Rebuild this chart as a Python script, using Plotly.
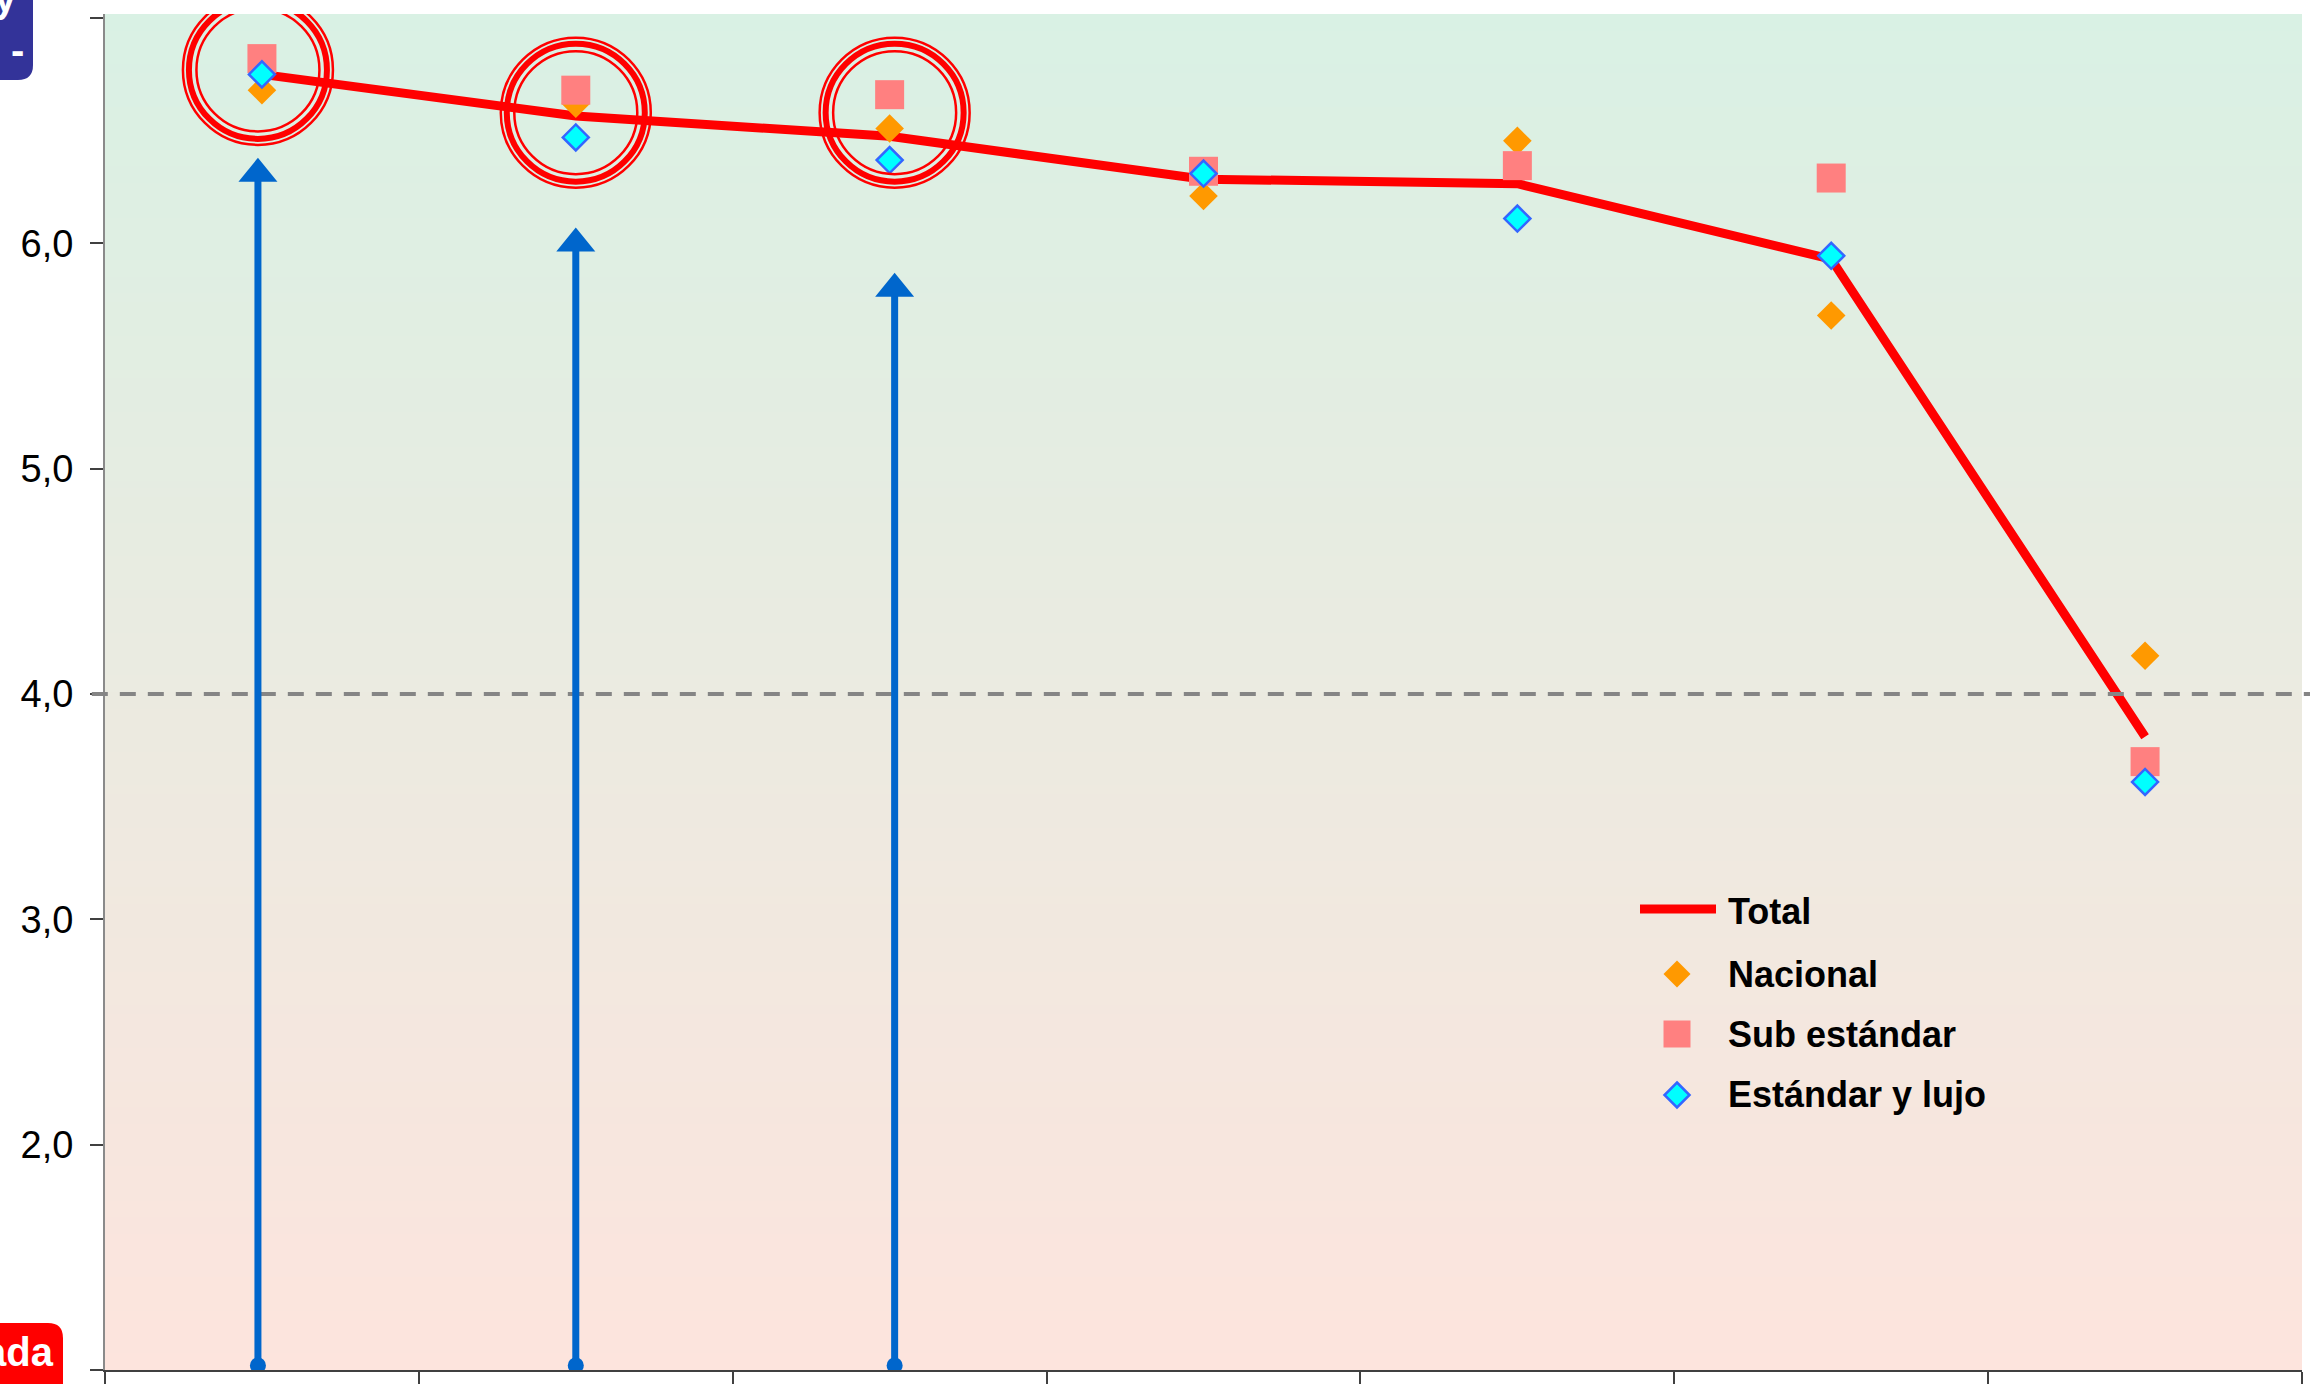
import plotly.graph_objects as go

# ---------------- data ----------------
categories = ["Grupo 1", "Grupo 2", "Grupo 3", "Grupo 4", "Grupo 5", "Grupo 6", "Grupo 7"]
total = [6.75, 6.565, 6.475, 6.285, 6.265, 5.93, 3.81]
nacional = [6.68, 6.62, 6.51, 6.21, 6.455, 5.68, 4.17]
sub_estandar = [6.82, 6.68, 6.66, 6.32, 6.345, 6.29, 3.70]
estandar_lujo = [6.75, 6.47, 6.37, 6.31, 6.11, 5.945, 3.61]

y_tick_vals = [1, 2, 3, 4, 5, 6, 7]
y_tick_text = ["", "2,0", "3,0", "4,0", "5,0", "6,0", ""]
threshold = 4.0

highlight_cats = ["Grupo 1", "Grupo 2", "Grupo 3"]
highlight_centers = [6.77, 6.58, 6.58]
highlight_offsets_px = [-4, 0, 5]
arrow_tips = [6.38, 6.07, 5.87]
arrow_base = 1.02

legend_labels = ["Total", "Nacional", "Sub estándar", "Estándar y lujo"]
box_top_lines = ["y", "-"]
box_bottom_text = "ada"

# ---------------- style ----------------
W, H = 2310, 1384
ML, MR, MT, MB = 105, 8, 14, 14
PW, PH = W - ML - MR, H - MT - MB
Y_RANGE = [1.0, 7.018]
YSCALE = PH / (Y_RANGE[1] - Y_RANGE[0])

RED = "#FF0000"
ORANGE = "#FF9900"
PINK = "#FF8080"
CYAN = "#00FFFF"
CYAN_EDGE = "#3366FF"
ARROW = "#0066CC"
FONT = "Liberation Sans"

def px_x(px):
    return (px - ML) / PW

def px_y(py):
    return (H - MB - py) / PH

fig = go.Figure()

fig.add_trace(go.Scatter(x=categories, y=total, mode="lines", name=legend_labels[0],
                         line=dict(color=RED, width=9), showlegend=False))
fig.add_trace(go.Scatter(x=categories, y=nacional, mode="markers", name=legend_labels[1],
                         marker=dict(symbol="diamond", size=22, color=ORANGE, line=dict(width=0)),
                         showlegend=False))
fig.add_trace(go.Scatter(x=categories, y=sub_estandar, mode="markers", name=legend_labels[2],
                         marker=dict(symbol="square", size=29, color=PINK, line=dict(width=0)),
                         showlegend=False))
fig.add_trace(go.Scatter(x=categories, y=estandar_lujo, mode="markers", name=legend_labels[3],
                         marker=dict(symbol="diamond", size=20, color=CYAN,
                                     line=dict(width=2.5, color=CYAN_EDGE)),
                         showlegend=False))

shapes = []

# gradient background of the plot area
top_c = (217, 241, 228)
bot_c = (253, 228, 221)
N = 160
for i in range(N):
    t = (i + 0.5) / N
    c = tuple(round(bot_c[k] + (top_c[k] - bot_c[k]) * t) for k in range(3))
    shapes.append(dict(type="rect", xref="paper", yref="paper", x0=0, x1=1,
                       y0=i / N, y1=min(1.0, (i + 1.3) / N), layer="below",
                       line=dict(width=0), fillcolor="rgb(%d,%d,%d)" % c))

# threshold dashed line
shapes.append(dict(type="line", xref="paper", yref="y", x0=-0.006, x1=1.01,
                   y0=threshold, y1=threshold, layer="above",
                   line=dict(color="#858585", width=4, dash="16px,12px")))

# highlight circles (triple rings)
for cat, cy, dx in zip(highlight_cats, highlight_centers, highlight_offsets_px):
    for r, w in [(75, 2.5), (69, 6), (61.5, 2.5)]:
        shapes.append(dict(type="circle", xref="x", yref="y", xsizemode="pixel", ysizemode="pixel",
                           xanchor=cat, yanchor=cy, x0=dx - r, x1=dx + r, y0=-r, y1=r,
                           layer="above", line=dict(color=RED, width=w)))

# arrows
head_w, head_h = 39, 24
for cat, tip, dx in zip(highlight_cats, arrow_tips, highlight_offsets_px):
    shapes.append(dict(type="line", xref="x", yref="y", xsizemode="pixel", xanchor=cat,
                       x0=dx, x1=dx, y0=arrow_base, y1=tip - (head_h * 0.7) / YSCALE,
                       layer="above", line=dict(color=ARROW, width=7)))
    shapes.append(dict(type="path", xref="x", yref="y", xsizemode="pixel", ysizemode="pixel",
                       xanchor=cat, yanchor=tip,
                       path="M%.1f,%.1f L%.1f,%.1f L%.1f,0 Z" % (dx - head_w / 2, -head_h,
                                                                  dx + head_w / 2, -head_h, dx),
                       layer="above", fillcolor=ARROW, line=dict(width=0)))
    shapes.append(dict(type="circle", xref="x", yref="y", xsizemode="pixel", ysizemode="pixel",
                       xanchor=cat, yanchor=arrow_base, x0=dx - 8, x1=dx + 8, y0=-8, y1=8,
                       layer="above", fillcolor=ARROW, line=dict(width=0)))

# manual legend
leg_marker_x = px_x(1677)
leg_rows = [909, 974, 1034, 1095]
shapes.append(dict(type="line", xref="paper", yref="paper", x0=px_x(1640), x1=px_x(1716),
                   y0=px_y(leg_rows[0]), y1=px_y(leg_rows[0]), line=dict(color=RED, width=9)))
shapes.append(dict(type="path", xref="paper", yref="paper", xsizemode="pixel", ysizemode="pixel",
                   xanchor=leg_marker_x, yanchor=px_y(leg_rows[1]),
                   path="M0,13.5 L13.5,0 L0,-13.5 L-13.5,0 Z", fillcolor=ORANGE, line=dict(width=0)))
shapes.append(dict(type="path", xref="paper", yref="paper", xsizemode="pixel", ysizemode="pixel",
                   xanchor=leg_marker_x, yanchor=px_y(leg_rows[2]),
                   path="M-13.5,-13.5 L13.5,-13.5 L13.5,13.5 L-13.5,13.5 Z", fillcolor=PINK,
                   line=dict(width=0)))
shapes.append(dict(type="path", xref="paper", yref="paper", xsizemode="pixel", ysizemode="pixel",
                   xanchor=leg_marker_x, yanchor=px_y(leg_rows[3]),
                   path="M0,12.5 L12.5,0 L0,-12.5 L-12.5,0 Z", fillcolor=CYAN,
                   line=dict(width=2.5, color=CYAN_EDGE)))

# cut-off label boxes on the left edge
shapes.append(dict(type="path", xref="paper", yref="paper", xsizemode="pixel", ysizemode="pixel",
                   xanchor=0, yanchor=1,
                   path="M-112,20 L-72,20 L-72,-51 Q-72,-66 -87,-66 L-112,-66 Z",
                   fillcolor="#333399", line=dict(width=0)))
shapes.append(dict(type="path", xref="paper", yref="paper", xsizemode="pixel", ysizemode="pixel",
                   xanchor=0, yanchor=0,
                   path="M-112,-20 L-42,-20 L-42,32 Q-42,47 -57,47 L-112,47 Z",
                   fillcolor="#FF0000", line=dict(width=0)))

annotations = []
leg_text_rows = [912, 974, 1034, 1094]
for lab, ry in zip(legend_labels, leg_text_rows):
    annotations.append(dict(text="<b>%s</b>" % lab, xref="paper", yref="paper",
                            x=px_x(1726), y=px_y(ry), xanchor="left", yanchor="middle",
                            showarrow=False, font=dict(family=FONT, size=36, color="#000000")))

annotations.append(dict(text="<b>%s</b>" % box_top_lines[0], xref="paper", yref="paper",
                        x=0, y=1, xshift=-86, yshift=16, xanchor="right", yanchor="middle",
                        showarrow=False, font=dict(family=FONT, size=40, color="#FFFFFF")))
annotations.append(dict(text="<b>%s</b>" % box_top_lines[1], xref="paper", yref="paper",
                        x=0, y=1, xshift=-79, yshift=-36, xanchor="right", yanchor="middle",
                        showarrow=False, font=dict(family=FONT, size=40, color="#FFFFFF")))
annotations.append(dict(text="<b>%s</b>" % box_bottom_text, xref="paper", yref="paper",
                        x=0, y=0, xshift=-49, yshift=18, xanchor="right", yanchor="middle",
                        showarrow=False, font=dict(family=FONT, size=40, color="#FFFFFF")))

fig.update_layout(
    width=W, height=H,
    margin=dict(l=ML, r=MR, t=MT, b=MB, pad=0, autoexpand=False),
    paper_bgcolor="#FFFFFF",
    plot_bgcolor="#EBECE0",
    showlegend=False,
    shapes=shapes,
    annotations=annotations,
    font=dict(family=FONT, color="#000000"),
    xaxis=dict(type="category", categoryorder="array", categoryarray=categories,
               range=[-0.5, len(categories) - 0.5], showticklabels=False, automargin=False,
               ticks="outside", tickson="boundaries", ticklen=16, tickwidth=2, tickcolor="#404040",
               showline=True, linecolor="#404040", linewidth=2, showgrid=False, zeroline=False,
               fixedrange=True),
    yaxis=dict(range=Y_RANGE, tickmode="array", tickvals=y_tick_vals, ticktext=y_tick_text,
               automargin=False,
               ticks="outside", ticklen=13, tickwidth=2, tickcolor="#404040",
               showline=True, linecolor="#8A8A8A", linewidth=2, showgrid=False, zeroline=False,
               tickfont=dict(family=FONT, size=38, color="#000000"), ticklabelstandoff=9,
               fixedrange=True),
)

fig.write_html("out.html")
